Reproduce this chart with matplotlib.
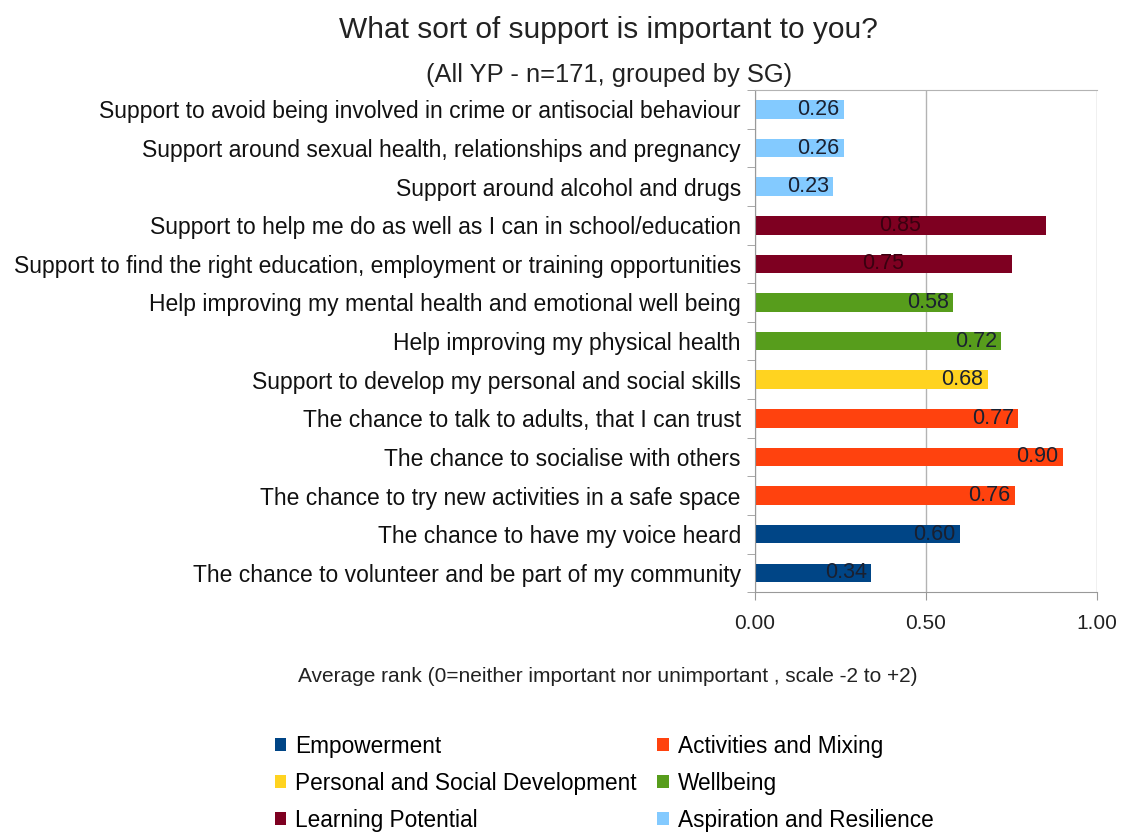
import matplotlib.pyplot as plt
from matplotlib.patches import Patch

plt.rcParams['font.family'] = ['Liberation Sans', 'DejaVu Sans']

# items listed bottom to top
items = [
    'The chance to volunteer and be part of my community',
    'The chance to have my voice heard',
    'The chance to try new activities in a safe space',
    'The chance to socialise with others',
    'The chance to talk to adults, that I can trust',
    'Support to develop my personal and social skills',
    'Help improving my physical health',
    'Help improving my mental health and emotional well being',
    'Support to find the right education, employment or training opportunities',
    'Support to help me do as well as I can in school/education',
    'Support around alcohol and drugs',
    'Support around sexual health, relationships and pregnancy',
    'Support to avoid being involved in crime or antisocial behaviour',
]
scores = [0.34, 0.60, 0.76, 0.90, 0.77, 0.68, 0.72, 0.58, 0.75, 0.85, 0.23, 0.26, 0.26]
groups = ['Empowerment', 'Empowerment',
          'Activities and Mixing', 'Activities and Mixing', 'Activities and Mixing',
          'Personal and Social Development',
          'Wellbeing', 'Wellbeing',
          'Learning Potential', 'Learning Potential',
          'Aspiration and Resilience', 'Aspiration and Resilience', 'Aspiration and Resilience']

group_colors = {
    'Empowerment': '#004586',
    'Activities and Mixing': '#ff420e',
    'Personal and Social Development': '#ffd320',
    'Wellbeing': '#579d1c',
    'Learning Potential': '#7e0021',
    'Aspiration and Resilience': '#83caff',
}
legend_order = ['Empowerment', 'Personal and Social Development', 'Learning Potential',
                'Activities and Mixing', 'Wellbeing', 'Aspiration and Resilience']

fig = plt.figure(figsize=(11.23, 8.34), dpi=100)
ax = fig.add_axes([0.672, 0.290, 0.305, 0.602])

y = range(len(items))
cols = [group_colors[g] for g in groups]
ax.barh(y, scores, height=0.48, color=cols, zorder=2)

for i, (v, g) in enumerate(zip(scores, groups)):
    if g == 'Learning Potential':
        ax.text(v / 2, i, f'{v:.2f}', ha='center', va='center', fontsize=15.5,
                color='#3a0010', zorder=3)
    else:
        ax.text(v - 0.013, i, f'{v:.2f}', ha='right', va='center', fontsize=15.5,
                color='#1a2030', zorder=3)

ax.set_xlim(0, 1.0)
ax.set_ylim(-0.5, len(items) - 0.5)
ax.set_xticks([0, 0.5, 1.0])
ax.set_xticklabels(['0.00', '0.50', '1.00'], fontsize=15, color='#222222')
ax.set_yticks(list(y))
ax.set_yticklabels(items, fontsize=16.5, color='#111111')
ax.set_yticks([i + 0.5 for i in range(-1, len(items))], minor=True)
ax.tick_params(axis='y', which='major', length=0, pad=10)
ax.tick_params(axis='y', which='minor', length=6, color='#999999')
ax.tick_params(axis='x', length=6, color='#999999', pad=10)
ax.grid(axis='x', color='#b3b3b3', linewidth=1, zorder=0)
ax.spines['top'].set_color('#b3b3b3')
for side in ['left', 'bottom']:
    ax.spines[side].set_color('#999999')
ax.spines['right'].set_visible(False)

fig.text(0.541, 1 - 677 / 834, 'Average rank (0=neither important nor unimportant , scale -2 to +2)',
         ha='center', va='center', fontsize=15, color='#222222')

fig.text(0.542, 0.964, 'What sort of support is important to you?', ha='center', va='center',
         fontsize=21.5, color='#222222')
fig.text(0.542, 0.910, '(All YP - n=171, grouped by SG)', ha='center', va='center',
         fontsize=18.4, color='#222222')

handles = [Patch(facecolor=group_colors[g], edgecolor='none', label=g) for g in legend_order]
fig.legend(handles=handles, ncol=2, loc='center', bbox_to_anchor=(0.538, 0.061),
           frameon=False, fontsize=16.3, handlelength=0.5, handleheight=0.5,
           handletextpad=0.4, columnspacing=0.9, labelspacing=0.62)

fig.savefig('out.png', dpi=100, facecolor='white')
